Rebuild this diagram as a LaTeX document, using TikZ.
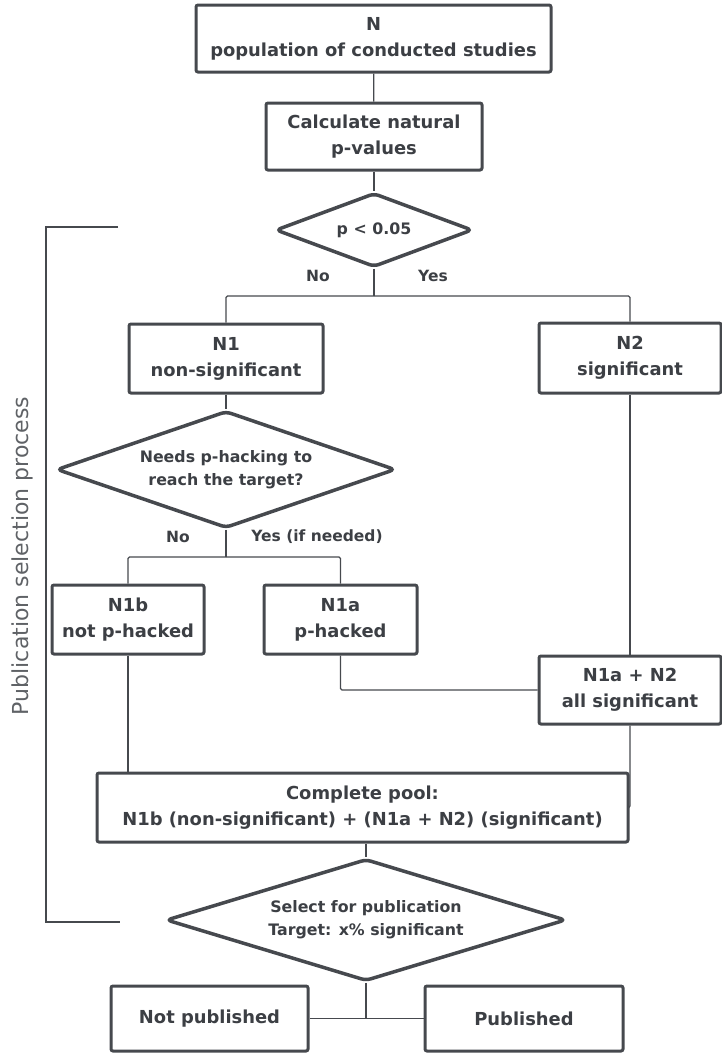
\documentclass[tikz,border=0pt]{standalone}
\usepackage{fontspec}
\setmainfont{DejaVu Sans}
\usetikzlibrary{shapes.geometric, positioning}
\definecolor{boxline}{RGB}{70,73,78}
\definecolor{textcol}{RGB}{60,63,68}
\definecolor{sidetext}{RGB}{95,98,102}

\begin{document}
\begin{tikzpicture}[
  x=1pt, y=1pt,
  box/.style={rectangle, draw=boxline, line width=3pt, rounded corners=2pt,
              fill=white, align=center, text=textcol, inner sep=0pt,
              font=\bfseries\fontsize{17.9}{26}\selectfont},
  dec/.style={diamond, draw=boxline, line width=3.5pt, rounded corners=5pt,
              fill=white, align=center, text=textcol, inner sep=0pt,
              font=\bfseries\fontsize{15.8}{23}\selectfont},
  lab/.style={text=textcol, font=\bfseries\fontsize{15.5}{18}\selectfont},
  link/.style={draw=boxline, line width=1.2pt, rounded corners=1.5pt}
]
\useasboundingbox (0,0) rectangle (722,-1053);

\node[box, minimum width=355, minimum height=67] (pop) at (373.5,-38.5)
  {N\\ population of conducted studies};
\node[box, minimum width=216, minimum height=67] (calc) at (374,-136.5)
  {Calculate natural\\ p-values};
\node[dec, minimum width=197, minimum height=74, aspect=2.66] (sig) at (374,-230)
  {p < 0.05};

\node[lab] (signo)  at (318,-276) {No};
\node[lab] (sigyes) at (433,-276) {Yes};

\node[box, minimum width=194, minimum height=69] (n1) at (226,-358.5)
  {N1\\ non-significant};
\node[box, minimum width=182, minimum height=70] (n2) at (630,-358)
  {N2\\ significant};

\node[dec, minimum width=339, minimum height=117, aspect=2.9] (hack) at (226,-469.5)
  {Needs p-hacking to\\ reach the target?};

\node[lab] (hackno)  at (178,-537) {No};
\node[lab] (hackyes) at (317,-537) {Yes (if needed)};

\node[box, minimum width=152, minimum height=69] (n1b) at (128,-619.5)
  {N1b\\ not p-hacked};
\node[box, minimum width=153, minimum height=69] (n1a) at (340.5,-619.5)
  {N1a\\ p-hacked};
\node[box, minimum width=182, minimum height=68] (n1an2) at (630,-690)
  {N1a + N2\\ all significant};

\node[box, minimum width=531, minimum height=69] (pool) at (362.5,-807.5)
  {Complete pool:\\ N1b (non-significant) + (N1a + N2) (significant)};

\node[dec, minimum width=400, minimum height=122, aspect=3.28] (pick) at (366,-920)
  {Select for publication\\ Target: x\% significant};

\node[box, minimum width=197, minimum height=65] (notpub) at (209.5,-1018.5)
  {Not published};
\node[box, minimum width=198, minimum height=65] (pub) at (524,-1018.5)
  {Published};

\coordinate (split1) at (374,-296);
\coordinate (split2) at (226,-557);
\coordinate (brtop) at (118,-227);
\coordinate (brbot) at (120,-922);

\draw[link] (pop) -- (calc);
\draw[link] (calc) -- (sig);
\draw[link] (sig.south) -- (split1);
\draw[link] (split1) -| (n1.north);
\draw[link] (split1) -| (n2.north);
\draw[link] (n1) -- (hack);
\draw[link] (hack.south) -- (split2);
\draw[link] (split2) -| (n1b.north);
\draw[link] (split2) -| (n1a.north);
\draw[link] (n1a.south) |- (n1an2.west);
\draw[link] (n2) -- (n1an2);
\draw[link] (n1b.south) -- (n1b.south |- pool.north);
\draw[link] (n1an2.south) |- (pool.east);
\draw[link] (pick.north |- pool.south) -- (pick.north);
\draw[link] (pick.south) -- (pick.south |- pub.west);
\draw[link] (notpub.east) -- (pub.west);

\draw[link, rounded corners=0pt] (brtop) -- ++(-72,0) |- (brbot);
\node[rotate=90, text=sidetext, font=\fontsize{22}{26}\selectfont] (phase) at (22,-556)
  {Publication selection process};

\end{tikzpicture}
\end{document}
